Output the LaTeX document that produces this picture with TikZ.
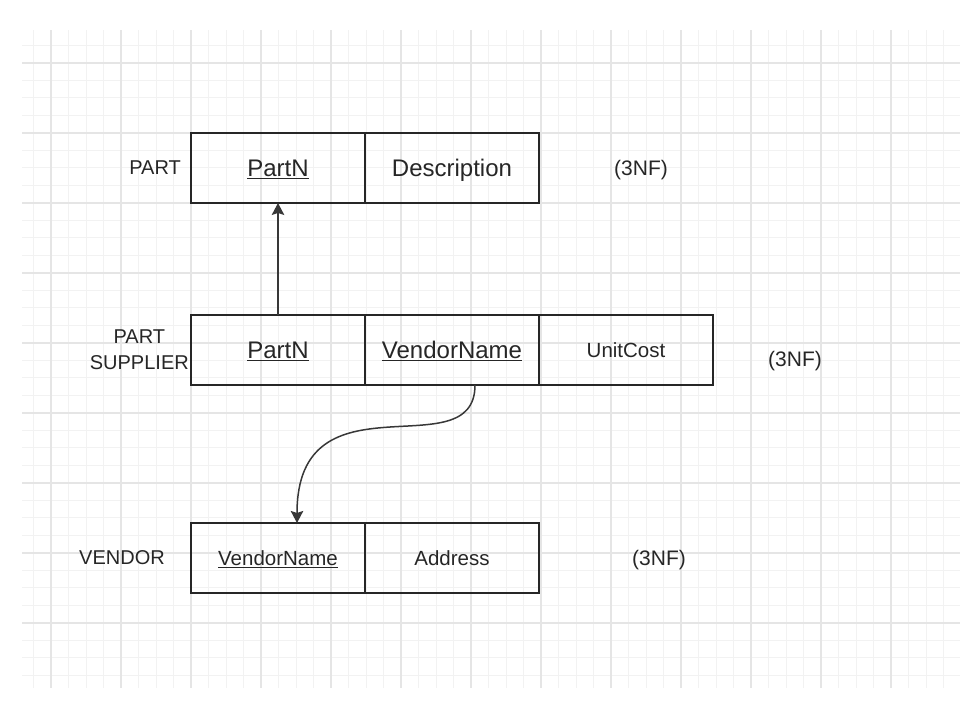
\documentclass[tikz,border=0pt]{standalone}
\usepackage{xcolor}
\usepackage{fontspec}
\setmainfont{Liberation Sans}
\usepackage{tikz}
\usetikzlibrary{arrows.meta, positioning}
\tikzstyle{cell} = [rectangle, minimum width=174pt, minimum height=70pt, inner sep=0pt, outer sep=0pt, text centered, draw=black!85, line width=1.6pt, text=black!85, font=\fontsize{24}{28}\selectfont, text height=17pt, text depth=0pt]
\tikzstyle{smallcell} = [cell, font=\fontsize{20.5}{24}\selectfont, text height=14.7pt]
\tikzstyle{relname} = [inner sep=0pt, align=center, text=black!85, font=\fontsize{20}{26}\selectfont]
\tikzstyle{nform} = [inner sep=0pt, text=black!85, font=\fontsize{21}{24}\selectfont, text height=15pt, text depth=0pt]
\tikzstyle{minorgrid} = [draw=black!5, line width=1pt]
\tikzstyle{majorgrid} = [draw=black!10, line width=1.2pt]
\tikzstyle{arrow} = [line width=1.5pt, draw=black!78, -{Stealth[length=12pt, width=12.5pt, inset=2pt]}]

\begin{document}
\begin{tikzpicture}[x=1pt, y=1pt]
    \useasboundingbox (0,0) rectangle (960,708);
    \draw[minorgrid, shift={(191,575)}] (-169,-555) grid[step=17.5] (769,103);
    \draw[majorgrid, shift={(191,575)}] (-169,-555) grid[step=70] (769,103);

    \node (partN) [cell] at (278,540) {\underline{PartN}};
    \node (partDesc) [cell, right=0pt of partN] {Description};
    \node (supPartN) [cell, below=112pt of partN] {\underline{PartN}};
    \node (supVend) [cell, right=0pt of supPartN] {\underline{VendorName}};
    \node (supCost) [smallcell, right=0pt of supVend] {UnitCost};
    \node (vendName) [smallcell, below=138pt of supPartN] {\underline{VendorName}};
    \node (vendAddr) [smallcell, right=0pt of vendName] {Address};

    \node (partLbl) [relname, left=10pt of partN] {PART};
    \node (supLbl) [relname, left=2pt of supPartN] {PART\\SUPPLIER};
    \node (vendLbl) [relname, left=26pt of vendName] {VENDOR};

    \node (partNF) [nform, right=75pt of partDesc] {(3NF)};
    \node (supNF) [nform, right=55pt of supCost, yshift=-9pt] {(3NF)};
    \node (vendNF) [nform, right=93pt of vendAddr] {(3NF)};

    \draw [arrow] (supPartN) -- (partN);
    \draw [arrow] ([xshift=23pt]supVend.south) .. controls +(0,-86) and +(0,154) .. ([xshift=19pt]vendName.north);
\end{tikzpicture}
\end{document}
